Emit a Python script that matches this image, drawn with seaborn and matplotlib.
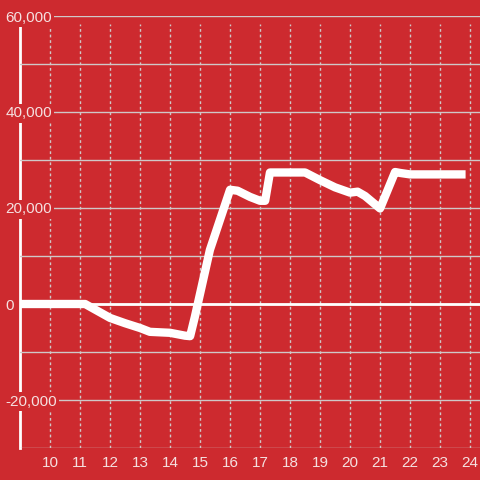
import matplotlib
matplotlib.use("Agg")
import matplotlib.pyplot as plt
from matplotlib.ticker import FixedLocator
import seaborn as sns

# chart data
hours = [9, 11.17, 12, 12.5, 13, 13.33, 14, 14.5, 14.67, 14.83, 15.33, 16.0, 16.25,
         16.67, 17.0, 17.17, 17.33, 18.5, 19.0, 19.5, 20.0, 20.25, 20.5, 21.0, 21.5,
         21.67, 22.0, 23.85]
values = [0, 0, -2900, -4000, -5000, -5800, -6000, -6600, -6700, -2600, 11300, 23800, 23600,
          22300, 21500, 21500, 27400, 27400, 25800, 24300, 23200, 23400, 22500, 19900, 27500,
          27300, 27000, 27000]
x_ticks = list(range(10, 25))
y_ticks = [-20000, 0, 20000, 40000, 60000]
y_labels = ["-20,000", "0", "20,000", "40,000", "60,000"]
y_grid = [-30000, -10000, 10000, 30000, 50000]

red = "#cd2a2f"
pale = "#f5e0e0"
grid_col = "#cfc8c8"

sns.set_theme(style="white")
plt.rcParams["font.family"] = ["Liberation Sans", "DejaVu Sans"]

fig = plt.figure(figsize=(4.8, 4.8), dpi=100, facecolor=red)
ax = fig.add_axes([20 / 480, 32 / 480, 460 / 480, 432 / 480])
ax.set_facecolor(red)
ax.set_axisbelow(True)

sns.lineplot(x=hours, y=values, ax=ax, color="white", linewidth=6,
             estimator=None, sort=False, zorder=3)
ax.lines[-1].set_solid_joinstyle("round")
ax.lines[-1].set_solid_capstyle("butt")

ax.axhline(0, color="white", lw=2, zorder=1)
ax.vlines(x_ticks, -30000, 58300, colors=grid_col, lw=1,
          linestyles=(0, (2, 2)), zorder=0.45)

ax.set_xlim(9, 24.33)
ax.set_ylim(-30000, 60000)
ax.set_xticks(x_ticks)
ax.set_xticklabels([str(t) for t in x_ticks])
ax.set_yticks(y_ticks)
ax.set_yticklabels(y_labels)
ax.yaxis.set_minor_locator(FixedLocator(y_grid))
ax.grid(axis="y", which="both", color=grid_col, lw=1, linestyle="-")
ax.grid(axis="x", visible=False)

ax.tick_params(axis="x", length=0, pad=6, labelsize=11, labelcolor=pale)
ax.tick_params(axis="y", which="both", length=0, pad=10.5, labelsize=11,
               labelcolor=pale)
for lab in ax.get_yticklabels():
    lab.set_horizontalalignment("left")
    lab.set_bbox(dict(facecolor=red, edgecolor="none", pad=1.5))

for s in ["top", "right", "bottom"]:
    ax.spines[s].set_visible(False)
ax.spines["left"].set_color("white")
ax.spines["left"].set_linewidth(2)
ax.spines["left"].set_bounds(-30000, 58300)
ax.spines["left"].set_zorder(0.4)

fig.savefig("out.png", dpi=100, facecolor=red)
